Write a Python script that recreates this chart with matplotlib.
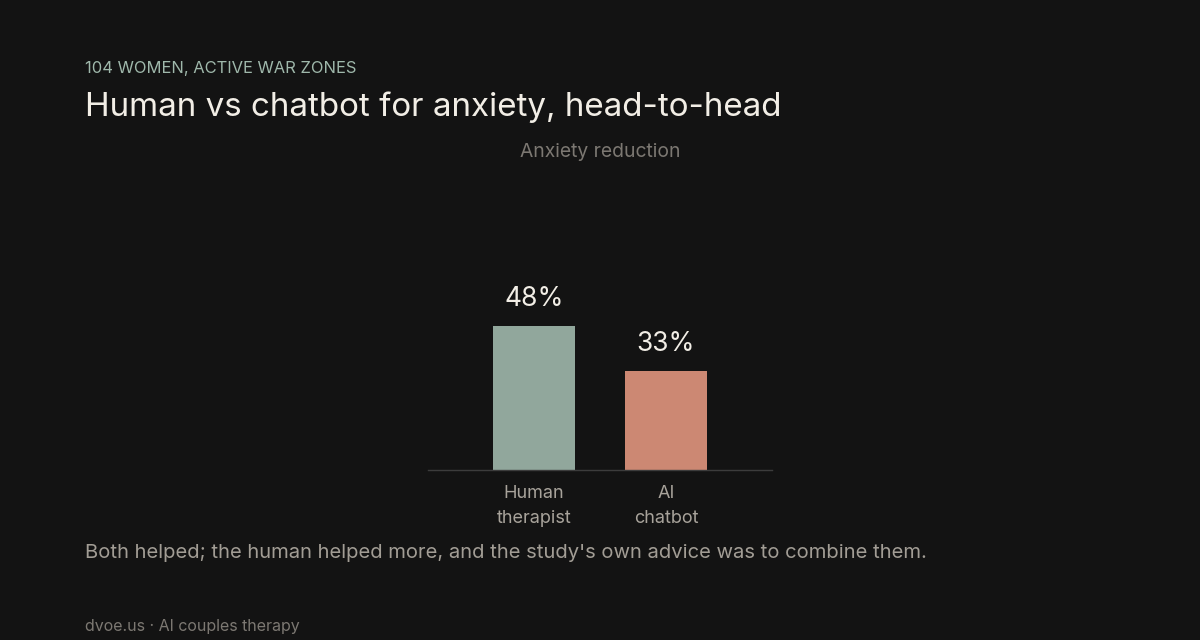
import matplotlib.pyplot as plt

plt.rcParams['font.family'] = ['Inter', 'DejaVu Sans']

categories = ["Human\ntherapist", "AI\nchatbot"]
values = [48, 33]
value_labels = ["48%", "33%"]
bar_colors = ["#91a79c", "#cc8873"]

bg = "#131313"

fig = plt.figure(figsize=(12, 6.4), dpi=100, facecolor=bg)
ax = fig.add_axes([428 / 1200, 1 - 470 / 640, 344 / 1200, 300 / 640])
ax.set_facecolor(bg)

x = list(range(len(categories)))
ax.bar(x, values, width=0.62, color=bar_colors, zorder=2)
for xi, v, lab in zip(x, values, value_labels):
    ax.annotate(lab, (xi, v), xytext=(0, 10), textcoords="offset points",
                ha="center", va="bottom", fontsize=19, color="#f2eee6")

ax.set_xlim(-0.803, 1.803)
ax.set_ylim(0, 100)
ax.set_xticks(x)
ax.set_xticklabels(categories, fontsize=13, color="#a8a39b", linespacing=1.6)
ax.tick_params(axis="x", length=0, pad=11)
ax.set_yticks([])
for s in ["top", "right", "left"]:
    ax.spines[s].set_visible(False)
ax.spines["bottom"].set_color("#3c3c3c")
ax.spines["bottom"].set_linewidth(1)

fig.text(600 / 1200, 1 - 152 / 640, "Anxiety reduction", ha="center", va="center",
         fontsize=13.9, color="#7c7872")
fig.text(85 / 1200, 1 - 69 / 640, "104 WOMEN, ACTIVE WAR ZONES", ha="left", va="center",
         fontsize=11.9, color="#9fb8ab")
fig.text(85 / 1200, 1 - 107 / 640, "Human vs chatbot for anxiety, head-to-head", ha="left",
         va="center", fontsize=23.9, color="#f2eee6")
fig.text(85 / 1200, 1 - 553 / 640,
         "Both helped; the human helped more, and the study's own advice was to combine them.",
         ha="left", va="center", fontsize=14.55, color="#a29d95")
fig.text(85 / 1200, 1 - 627 / 640, "dvoe.us \u00b7 AI couples therapy", ha="left", va="center",
         fontsize=11.5, color="#7c7872")

fig.savefig("out.png", dpi=100, facecolor=bg)
